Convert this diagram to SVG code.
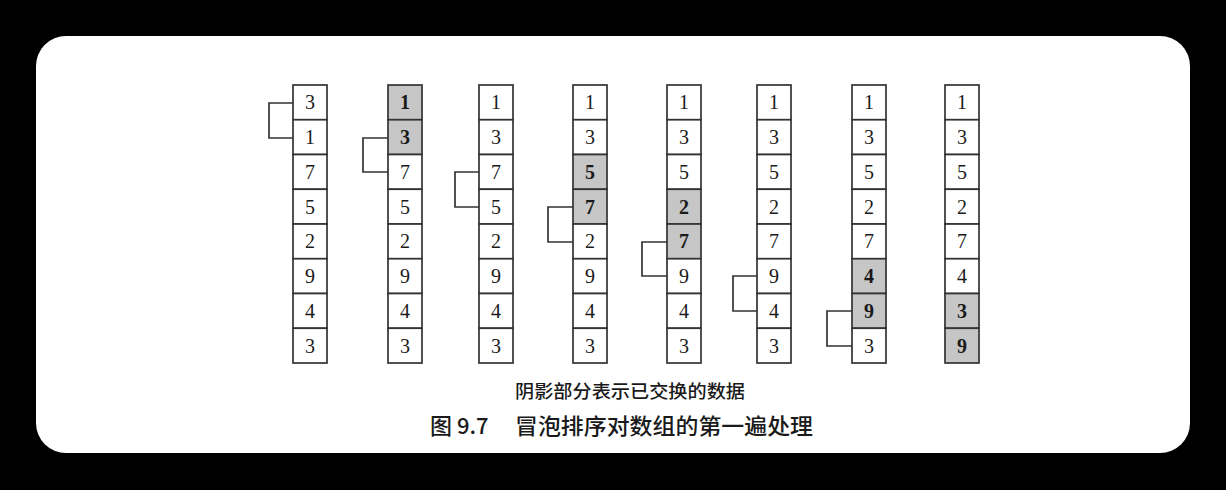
<svg xmlns="http://www.w3.org/2000/svg" width="1226" height="490" viewBox="0 0 1226 490">
<style>
.c{fill:#fff;stroke:#333;stroke-width:1.7}
.s{fill:#c6c6c6;stroke:#333;stroke-width:1.7}
.d{font-family:"Liberation Serif",serif;font-size:20px;fill:#1a1a1a;text-anchor:middle}
.br{fill:none;stroke:#333;stroke-width:1.7}
.cap{font-family:"Noto Sans CJK SC","Noto Sans",sans-serif;fill:#1a1a1a;font-weight:500}
</style>
<rect x="0" y="0" width="1226" height="490" fill="#000"/>
<rect x="36" y="36" width="1154" height="417" rx="30" fill="#fff"/>

<g id="connectors">
<path class="br" d="M293,103 H269 V138 H293"/>
<path class="br" d="M388,138 H363 V172 H388"/>
<path class="br" d="M479,172 H455 V207 H479"/>
<path class="br" d="M573,207 H548 V242 H573"/>
<path class="br" d="M667,242 H642 V276 H667"/>
<path class="br" d="M757,276 H733 V311 H757"/>
<path class="br" d="M852,311 H827 V346 H852"/>
</g>

<g id="col1">
<rect class="c" x="293" y="85" width="34" height="34.75"/>
<rect class="c" x="293" y="119.75" width="34" height="34.75"/>
<rect class="c" x="293" y="154.5" width="34" height="34.75"/>
<rect class="c" x="293" y="189.25" width="34" height="34.75"/>
<rect class="c" x="293" y="224" width="34" height="34.75"/>
<rect class="c" x="293" y="258.75" width="34" height="34.75"/>
<rect class="c" x="293" y="293.5" width="34" height="34.75"/>
<rect class="c" x="293" y="328.25" width="34" height="34.75"/>
<text class="d" x="310" y="109.4">3</text>
<text class="d" x="310" y="144.1">1</text>
<text class="d" x="310" y="178.9">7</text>
<text class="d" x="310" y="213.6">5</text>
<text class="d" x="310" y="248.4">2</text>
<text class="d" x="310" y="283.1">9</text>
<text class="d" x="310" y="317.9">4</text>
<text class="d" x="310" y="352.6">3</text>
</g>

<g id="col2">
<rect class="s" x="388" y="85" width="34" height="34.75"/>
<rect class="s" x="388" y="119.75" width="34" height="34.75"/>
<rect class="c" x="388" y="154.5" width="34" height="34.75"/>
<rect class="c" x="388" y="189.25" width="34" height="34.75"/>
<rect class="c" x="388" y="224" width="34" height="34.75"/>
<rect class="c" x="388" y="258.75" width="34" height="34.75"/>
<rect class="c" x="388" y="293.5" width="34" height="34.75"/>
<rect class="c" x="388" y="328.25" width="34" height="34.75"/>
<text class="d" x="405" y="109.4" font-weight="bold">1</text>
<text class="d" x="405" y="144.1" font-weight="bold">3</text>
<text class="d" x="405" y="178.9">7</text>
<text class="d" x="405" y="213.6">5</text>
<text class="d" x="405" y="248.4">2</text>
<text class="d" x="405" y="283.1">9</text>
<text class="d" x="405" y="317.9">4</text>
<text class="d" x="405" y="352.6">3</text>
</g>

<g id="col3">
<rect class="c" x="479" y="85" width="34" height="34.75"/>
<rect class="c" x="479" y="119.75" width="34" height="34.75"/>
<rect class="c" x="479" y="154.5" width="34" height="34.75"/>
<rect class="c" x="479" y="189.25" width="34" height="34.75"/>
<rect class="c" x="479" y="224" width="34" height="34.75"/>
<rect class="c" x="479" y="258.75" width="34" height="34.75"/>
<rect class="c" x="479" y="293.5" width="34" height="34.75"/>
<rect class="c" x="479" y="328.25" width="34" height="34.75"/>
<text class="d" x="496" y="109.4">1</text>
<text class="d" x="496" y="144.1">3</text>
<text class="d" x="496" y="178.9">7</text>
<text class="d" x="496" y="213.6">5</text>
<text class="d" x="496" y="248.4">2</text>
<text class="d" x="496" y="283.1">9</text>
<text class="d" x="496" y="317.9">4</text>
<text class="d" x="496" y="352.6">3</text>
</g>

<g id="col4">
<rect class="c" x="573" y="85" width="34" height="34.75"/>
<rect class="c" x="573" y="119.75" width="34" height="34.75"/>
<rect class="s" x="573" y="154.5" width="34" height="34.75"/>
<rect class="s" x="573" y="189.25" width="34" height="34.75"/>
<rect class="c" x="573" y="224" width="34" height="34.75"/>
<rect class="c" x="573" y="258.75" width="34" height="34.75"/>
<rect class="c" x="573" y="293.5" width="34" height="34.75"/>
<rect class="c" x="573" y="328.25" width="34" height="34.75"/>
<text class="d" x="590" y="109.4">1</text>
<text class="d" x="590" y="144.1">3</text>
<text class="d" x="590" y="178.9" font-weight="bold">5</text>
<text class="d" x="590" y="213.6" font-weight="bold">7</text>
<text class="d" x="590" y="248.4">2</text>
<text class="d" x="590" y="283.1">9</text>
<text class="d" x="590" y="317.9">4</text>
<text class="d" x="590" y="352.6">3</text>
</g>

<g id="col5">
<rect class="c" x="667" y="85" width="34" height="34.75"/>
<rect class="c" x="667" y="119.75" width="34" height="34.75"/>
<rect class="c" x="667" y="154.5" width="34" height="34.75"/>
<rect class="s" x="667" y="189.25" width="34" height="34.75"/>
<rect class="s" x="667" y="224" width="34" height="34.75"/>
<rect class="c" x="667" y="258.75" width="34" height="34.75"/>
<rect class="c" x="667" y="293.5" width="34" height="34.75"/>
<rect class="c" x="667" y="328.25" width="34" height="34.75"/>
<text class="d" x="684" y="109.4">1</text>
<text class="d" x="684" y="144.1">3</text>
<text class="d" x="684" y="178.9">5</text>
<text class="d" x="684" y="213.6" font-weight="bold">2</text>
<text class="d" x="684" y="248.4" font-weight="bold">7</text>
<text class="d" x="684" y="283.1">9</text>
<text class="d" x="684" y="317.9">4</text>
<text class="d" x="684" y="352.6">3</text>
</g>

<g id="col6">
<rect class="c" x="757" y="85" width="34" height="34.75"/>
<rect class="c" x="757" y="119.75" width="34" height="34.75"/>
<rect class="c" x="757" y="154.5" width="34" height="34.75"/>
<rect class="c" x="757" y="189.25" width="34" height="34.75"/>
<rect class="c" x="757" y="224" width="34" height="34.75"/>
<rect class="c" x="757" y="258.75" width="34" height="34.75"/>
<rect class="c" x="757" y="293.5" width="34" height="34.75"/>
<rect class="c" x="757" y="328.25" width="34" height="34.75"/>
<text class="d" x="774" y="109.4">1</text>
<text class="d" x="774" y="144.1">3</text>
<text class="d" x="774" y="178.9">5</text>
<text class="d" x="774" y="213.6">2</text>
<text class="d" x="774" y="248.4">7</text>
<text class="d" x="774" y="283.1">9</text>
<text class="d" x="774" y="317.9">4</text>
<text class="d" x="774" y="352.6">3</text>
</g>

<g id="col7">
<rect class="c" x="852" y="85" width="34" height="34.75"/>
<rect class="c" x="852" y="119.75" width="34" height="34.75"/>
<rect class="c" x="852" y="154.5" width="34" height="34.75"/>
<rect class="c" x="852" y="189.25" width="34" height="34.75"/>
<rect class="c" x="852" y="224" width="34" height="34.75"/>
<rect class="s" x="852" y="258.75" width="34" height="34.75"/>
<rect class="s" x="852" y="293.5" width="34" height="34.75"/>
<rect class="c" x="852" y="328.25" width="34" height="34.75"/>
<text class="d" x="869" y="109.4">1</text>
<text class="d" x="869" y="144.1">3</text>
<text class="d" x="869" y="178.9">5</text>
<text class="d" x="869" y="213.6">2</text>
<text class="d" x="869" y="248.4">7</text>
<text class="d" x="869" y="283.1" font-weight="bold">4</text>
<text class="d" x="869" y="317.9" font-weight="bold">9</text>
<text class="d" x="869" y="352.6">3</text>
</g>

<g id="col8">
<rect class="c" x="945" y="85" width="34" height="34.75"/>
<rect class="c" x="945" y="119.75" width="34" height="34.75"/>
<rect class="c" x="945" y="154.5" width="34" height="34.75"/>
<rect class="c" x="945" y="189.25" width="34" height="34.75"/>
<rect class="c" x="945" y="224" width="34" height="34.75"/>
<rect class="c" x="945" y="258.75" width="34" height="34.75"/>
<rect class="s" x="945" y="293.5" width="34" height="34.75"/>
<rect class="s" x="945" y="328.25" width="34" height="34.75"/>
<text class="d" x="962" y="109.4">1</text>
<text class="d" x="962" y="144.1">3</text>
<text class="d" x="962" y="178.9">5</text>
<text class="d" x="962" y="213.6">2</text>
<text class="d" x="962" y="248.4">7</text>
<text class="d" x="962" y="283.1">4</text>
<text class="d" x="962" y="317.9" font-weight="bold">3</text>
<text class="d" x="962" y="352.6" font-weight="bold">9</text>
</g>

<g id="captions">
<text class="cap" x="515" y="398" font-size="18" textLength="230" lengthAdjust="spacingAndGlyphs">阴影部分表示已交换的数据</text>
<text class="cap" x="430" y="434" font-size="22">图 9.7</text>
<text class="cap" x="515" y="434" font-size="22" textLength="298" lengthAdjust="spacingAndGlyphs">冒泡排序对数组的第一遍处理</text>
</g>
</svg>
